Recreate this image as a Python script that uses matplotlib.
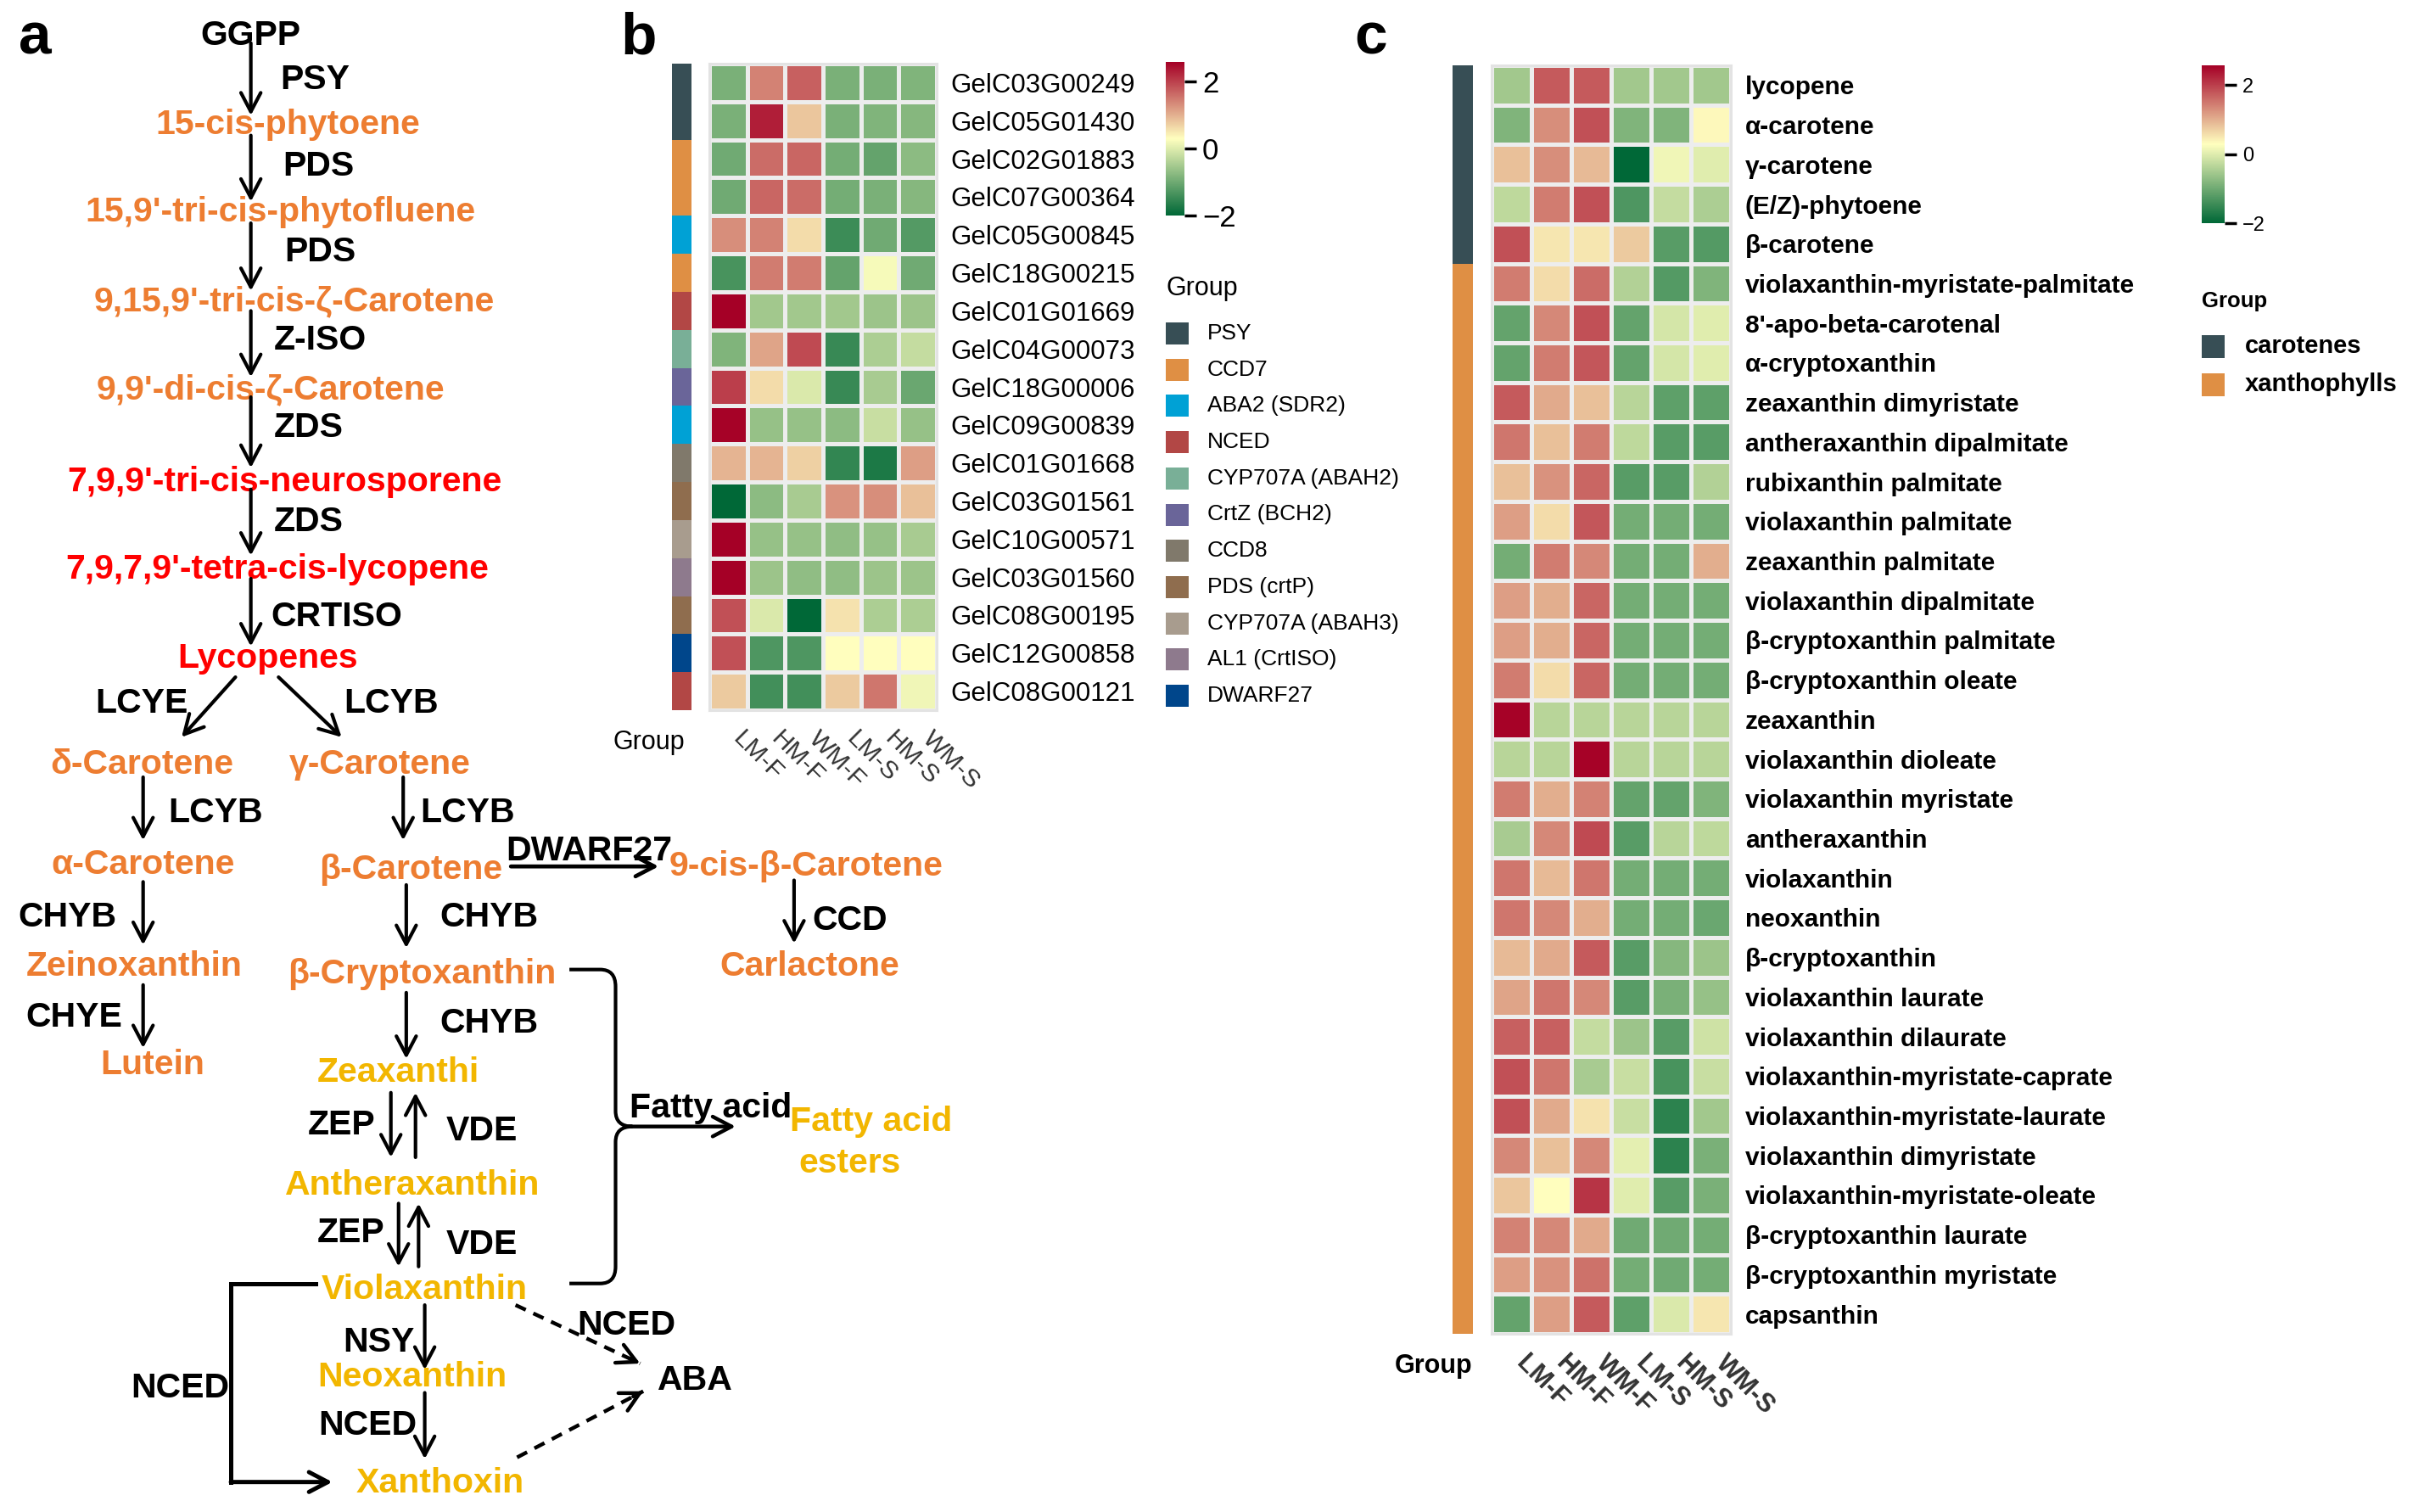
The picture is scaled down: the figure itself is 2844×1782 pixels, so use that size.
import numpy as np
import matplotlib
matplotlib.use('Agg')
import matplotlib.pyplot as plt
from matplotlib.colors import LinearSegmentedColormap, ListedColormap, Normalize
from matplotlib.patches import Rectangle, PathPatch
from matplotlib.path import Path
import matplotlib.cm as cm

plt.rcParams['font.family'] = ['Liberation Sans', 'DejaVu Sans']

# ---------------- data ----------------
samples = ['LM-F', 'HM-F', 'WM-F', 'LM-S', 'HM-S', 'WM-S']

genes = ['GelC03G00249', 'GelC05G01430', 'GelC02G01883', 'GelC07G00364', 'GelC05G00845',
         'GelC18G00215', 'GelC01G01669', 'GelC04G00073', 'GelC18G00006', 'GelC09G00839',
         'GelC01G01668', 'GelC03G01561', 'GelC10G00571', 'GelC03G01560', 'GelC08G00195',
         'GelC12G00858', 'GelC08G00121']
gene_groups = ['PSY', 'PSY', 'CCD7', 'CCD7', 'ABA2 (SDR2)', 'CCD7', 'NCED', 'CYP707A (ABAH2)',
               'CrtZ (BCH2)', 'ABA2 (SDR2)', 'CCD8', 'PDS (crtP)', 'CYP707A (ABAH3)',
               'AL1 (CrtISO)', 'PDS (crtP)', 'DWARF27', 'NCED']
gene_values = [
    [-0.90, 1.40, 1.70, -0.90, -0.90, -0.85],
    [-0.90, 2.30, 0.80, -0.90, -0.85, -0.80],
    [-1.00, 1.60, 1.65, -0.95, -1.10, -0.75],
    [-1.00, 1.65, 1.60, -0.95, -0.90, -0.80],
    [1.30, 1.40, 0.60, -1.45, -1.00, -1.25],
    [-1.35, 1.45, 1.45, -1.10, 0.20, -1.00],
    [2.57, -0.55, -0.55, -0.55, -0.60, -0.60],
    [-0.85, 1.10, 1.90, -1.50, -0.45, -0.25],
    [2.00, 0.60, -0.05, -1.50, -0.50, -1.05],
    [2.55, -0.65, -0.65, -0.75, -0.20, -0.65],
    [0.95, 0.95, 0.70, -1.55, -1.75, 1.15],
    [-2.00, -0.75, -0.50, 1.25, 1.30, 0.85],
    [2.57, -0.65, -0.65, -0.70, -0.65, -0.50],
    [2.57, -0.60, -0.70, -0.70, -0.60, -0.60],
    [1.85, -0.05, -2.00, 0.55, -0.45, -0.45],
    [1.85, -1.30, -1.30, 0.30, 0.30, 0.30],
    [0.75, -1.40, -1.40, 0.75, 1.50, 0.15],
]
gene_group_names = ['PSY', 'CCD7', 'ABA2 (SDR2)', 'NCED', 'CYP707A (ABAH2)', 'CrtZ (BCH2)',
                    'CCD8', 'PDS (crtP)', 'CYP707A (ABAH3)', 'AL1 (CrtISO)', 'DWARF27']
gene_group_colors = ['#374E55', '#DF8F44', '#00A1D5', '#B24745', '#79AF97', '#6A6599',
                     '#80796B', '#8F6D4E', '#A89C8E', '#8E7A8D', '#00468B']

compounds = ['lycopene', 'α-carotene', 'γ-carotene', '(E/Z)-phytoene', 'β-carotene',
             'violaxanthin-myristate-palmitate', "8'-apo-beta-carotenal", 'α-cryptoxanthin',
             'zeaxanthin dimyristate', 'antheraxanthin dipalmitate', 'rubixanthin palmitate',
             'violaxanthin palmitate', 'zeaxanthin palmitate', 'violaxanthin dipalmitate',
             'β-cryptoxanthin palmitate', 'β-cryptoxanthin oleate', 'zeaxanthin',
             'violaxanthin dioleate', 'violaxanthin myristate', 'antheraxanthin', 'violaxanthin',
             'neoxanthin', 'β-cryptoxanthin', 'violaxanthin laurate', 'violaxanthin dilaurate',
             'violaxanthin-myristate-caprate', 'violaxanthin-myristate-laurate',
             'violaxanthin dimyristate', 'violaxanthin-myristate-oleate',
             'β-cryptoxanthin laurate', 'β-cryptoxanthin myristate', 'capsanthin']
compound_groups = ['carotenes'] * 5 + ['xanthophylls'] * 27
compound_values = [
    [-0.55, 1.75, 1.75, -0.55, -0.55, -0.55],
    [-0.85, 1.30, 1.85, -0.85, -0.85, 0.35],
    [0.85, 1.30, 0.90, -2.00, 0.15, 0.00],
    [-0.30, 1.45, 1.85, -1.30, -0.25, -0.45],
    [1.85, 0.50, 0.50, 0.75, -1.20, -1.25],
    [1.45, 0.60, 1.60, -0.40, -1.25, -0.85],
    [-1.10, 1.35, 1.85, -1.10, -0.10, 0.00],
    [-1.10, 1.45, 1.80, -1.10, -0.10, 0.00],
    [1.75, 1.05, 0.85, -0.35, -1.15, -1.15],
    [1.50, 0.85, 1.45, -0.30, -1.20, -1.20],
    [0.85, 1.25, 1.65, -1.20, -1.20, -0.40],
    [1.15, 0.60, 1.80, -0.95, -0.95, -0.95],
    [-0.95, 1.45, 1.35, -0.95, -0.95, 1.00],
    [1.15, 1.00, 1.65, -0.95, -0.95, -0.95],
    [1.15, 1.00, 1.65, -0.95, -0.95, -0.95],
    [1.45, 0.60, 1.65, -0.95, -0.95, -0.95],
    [2.55, -0.35, -0.35, -0.35, -0.35, -0.35],
    [-0.35, -0.35, 2.55, -0.35, -0.35, -0.35],
    [1.45, 1.00, 1.40, -1.10, -1.10, -0.85],
    [-0.50, 1.35, 1.90, -1.20, -0.35, -0.30],
    [1.50, 0.90, 1.50, -0.95, -0.95, -0.95],
    [1.50, 1.35, 1.00, -0.95, -0.95, -1.05],
    [0.90, 1.05, 1.75, -1.20, -0.80, -0.60],
    [1.10, 1.50, 1.35, -1.20, -0.90, -0.65],
    [1.70, 1.70, -0.25, -0.60, -1.20, -0.15],
    [1.85, 1.50, -0.50, -0.20, -1.35, -0.20],
    [1.85, 1.05, 0.55, -0.20, -1.60, -0.55],
    [1.35, 0.85, 1.35, 0.05, -1.60, -0.90],
    [0.80, 0.30, 2.10, 0.00, -1.20, -0.90],
    [1.40, 1.35, 1.05, -1.00, -1.00, -0.95],
    [1.15, 1.25, 1.55, -0.95, -1.00, -0.95],
    [-1.10, 1.15, 1.75, -1.15, -0.05, 0.50],
]
compound_group_names = ['carotenes', 'xanthophylls']
compound_group_colors = ['#374E55', '#DF8F44']

cbar_ticks = [-2, 0, 2]
vmin, vmax = -2.0, 2.57

# ---------------- figure ----------------
W, H = 2844, 1782
fig = plt.figure(figsize=(W / 100, H / 100), dpi=100)

def rect_px(x0, y0, x1, y1):
    return [x0 / W, 1 - y1 / H, (x1 - x0) / W, (y1 - y0) / H]

ov = fig.add_axes([0, 0, 1, 1])
ov.set_xlim(0, W)
ov.set_ylim(H, 0)
ov.axis('off')

cmap = LinearSegmentedColormap.from_list('gyr', ['#006837', '#FFFFBF', '#A50026'], N=256)
norm = Normalize(vmin=vmin, vmax=vmax)

# ---------------- panel a: pathway ----------------
S = W / 1568.0
ORANGE = '#ED7D31'
RED = '#FF0000'
GOLD = '#F2B600'
FS = 29.5

def T(x, y, s, color='black', ha='center', size=FS, weight='bold'):
    ov.text(x * S, y * S, s, ha=ha, va='center', fontsize=size, fontweight=weight, color=color)

def A(x0, y0, x1, y1, lw=3.0):
    props = dict(arrowstyle='->,head_length=0.8,head_width=0.42', lw=lw,
                 color='black', shrinkA=0, shrinkB=0, mutation_scale=20)
    ov.annotate('', xy=(x1 * S, y1 * S), xytext=(x0 * S, y0 * S), arrowprops=props)

def DA(x0, y0, x1, y1, lw=3.2):
    # dashed shaft with a solid open head
    ov.plot([x0 * S, x1 * S], [y0 * S, y1 * S], color='black', lw=lw,
            linestyle=(0, (3.0, 2.2)), dash_capstyle='butt')
    fx, fy = x1 - (x1 - x0) * 0.08, y1 - (y1 - y0) * 0.08
    A(fx, fy, x1, y1, lw=lw)

# main trunk
T(163, 23, 'GGPP')
A(163, 28, 163, 75); T(182, 52, 'PSY', ha='left')
T(187, 81, '15-cis-phytoene', ORANGE)
A(163, 88, 163, 131); T(184, 108, 'PDS', ha='left')
T(182, 138, "15,9'-tri-cis-phytofluene", ORANGE)
A(163, 145, 163, 189); T(185, 164, 'PDS', ha='left')
T(191, 196, "9,15,9'-tri-cis-ζ-Carotene", ORANGE)
A(163, 202, 163, 245); T(178, 221, 'Z-ISO', ha='left')
T(176, 253, "9,9'-di-cis-ζ-Carotene", ORANGE)
A(163, 258, 163, 304); T(178, 278, 'ZDS', ha='left')
T(185, 313, "7,9,9'-tri-cis-neurosporene", RED)
A(163, 318, 163, 361); T(178, 339, 'ZDS', ha='left')
T(180, 370, "7,9,7,9'-tetra-cis-lycopene", RED)
A(163, 376, 163, 420); T(176, 401, 'CRTISO', ha='left')
T(174, 428, 'Lycopenes', RED)

# branches
A(153, 440, 118, 479); T(92, 457, 'LCYE')
A(181, 440, 222, 479); T(254, 457, 'LCYB')
T(92, 497, 'δ-Carotene', ORANGE)
T(247, 497, 'γ-Carotene', ORANGE)
A(93, 505, 93, 546); T(140, 528, 'LCYB')
A(262, 505, 262, 546); T(304, 528, 'LCYB')
T(93, 562, 'α-Carotene', ORANGE)
T(267, 565, 'β-Carotene', ORANGE)
A(332, 563, 428, 563, lw=3.4); T(383, 553, 'DWARF27')
T(524, 563, '9-cis-β-Carotene', ORANGE)
A(516, 572, 516, 613); T(552, 598, 'CCD')
T(526, 628, 'Carlactone', ORANGE)
A(93, 573, 93, 614); T(44, 596, 'CHYB')
T(87, 628, 'Zeinoxanthin', ORANGE)
A(93, 640, 93, 681); T(48, 661, 'CHYE')
T(99, 692, 'Lutein', ORANGE)
A(264, 575, 264, 616); T(318, 596, 'CHYB')
T(274, 633, 'β-Cryptoxanthin', ORANGE)
A(264, 645, 264, 688); T(318, 665, 'CHYB')
T(259, 697, 'Zeaxanthi', GOLD)
A(254, 710, 254, 752); A(270, 752, 270, 710)
T(222, 731, 'ZEP'); T(313, 735, 'VDE')
T(268, 770, 'Antheraxanthin', GOLD)
A(259, 782, 259, 823); A(272, 823, 272, 782)
T(228, 801, 'ZEP'); T(313, 809, 'VDE')
T(276, 838, 'Violaxanthin', GOLD)
A(276, 848, 276, 890); T(246, 872, 'NSY')
T(268, 895, 'Neoxanthin', GOLD)
A(276, 905, 276, 948); T(239, 926, 'NCED')
T(286, 964, 'Xanthoxin', GOLD)
# left NCED bracket
ov.plot([205 * S, 150 * S, 150 * S], [834 * S, 834 * S, 963 * S], color='black', lw=3.6,
        solid_joinstyle='miter')
A(150, 963, 216, 963, lw=3.6)
T(117, 902, 'NCED')
# dashed routes to ABA
DA(335, 848, 416, 886); T(407, 861, 'NCED')
DA(336, 947, 418, 904)
T(452, 897, 'ABA')
# fatty acid bracket
verts = [(370, 630), (390, 630), (400, 630), (400, 641), (400, 722), (400, 732), (411, 732),
         (370, 834), (390, 834), (400, 834), (400, 823), (400, 742), (400, 732), (411, 732)]
codes = [Path.MOVETO, Path.LINETO, Path.CURVE3, Path.CURVE3, Path.LINETO, Path.CURVE3, Path.CURVE3,
         Path.MOVETO, Path.LINETO, Path.CURVE3, Path.CURVE3, Path.LINETO, Path.CURVE3, Path.CURVE3]
ov.add_patch(PathPatch(Path([(x * S, y * S) for x, y in verts], codes), fill=False,
                       lw=3.0, edgecolor='black'))
A(408, 732, 478, 732, lw=3.2)
T(462, 720, 'Fatty acid')
T(566, 729, 'Fatty acid', GOLD)
T(552, 756, 'esters', GOLD)

# panel letters
ov.text(22, 63, 'a', fontsize=50, fontweight='bold', va='baseline', ha='left')
ov.text(731, 63, 'b', fontsize=50, fontweight='bold', va='baseline', ha='left')
ov.text(1596, 63, 'c', fontsize=50, fontweight='bold', va='baseline', ha='left')

# ---------------- heatmap helper ----------------
def heatmap(rect, values, rowlabels, bold, fs_row, fs_col):
    ax = fig.add_axes(rect)
    v = np.array(values)
    n, m = v.shape
    ax.pcolormesh(np.arange(m + 1), np.arange(n + 1), v, cmap=cmap, norm=norm,
                  edgecolors='#EDEDED', linewidth=2.2)
    ax.set_xlim(0, m)
    ax.set_ylim(n, 0)
    ax.yaxis.tick_right()
    ax.set_yticks(np.arange(n) + 0.5)
    ax.set_yticklabels(rowlabels, fontsize=fs_row, fontweight='bold' if bold else 'normal')
    ax.set_xticks(np.arange(m) + 0.5)
    ax.set_xticklabels(samples, rotation=-45, ha='left', va='top', rotation_mode='default',
                       fontsize=fs_col, color='#333333',
                       fontweight='bold' if bold else 'normal')
    ax.tick_params(axis='y', length=0, pad=12)
    ax.tick_params(axis='x', length=0, pad=14)
    for sp in ax.spines.values():
        sp.set_color('#E3E3E3')
        sp.set_linewidth(2.2)
    return ax

def annobar(rect, groups, names, colors):
    ax = fig.add_axes(rect)
    idx = np.array([[names.index(g)] for g in groups])
    ax.pcolormesh(np.arange(2), np.arange(len(groups) + 1), idx,
                  cmap=ListedColormap(colors), vmin=-0.5, vmax=len(colors) - 0.5)
    ax.set_ylim(len(groups), 0)
    ax.axis('off')
    return ax

def colorbar(rect, fs):
    cax = fig.add_axes(rect)
    cb = fig.colorbar(cm.ScalarMappable(norm=norm, cmap=cmap), cax=cax, ticks=cbar_ticks)
    cb.outline.set_visible(False)
    cax.tick_params(length=10, width=2.5, labelsize=fs, pad=5, color='black')
    return cb

# ---------------- panel b ----------------
heatmap(rect_px(836, 75, 1104, 837), gene_values, genes, False, 22.5, 21.5)
annobar(rect_px(792, 75, 815, 837), gene_groups, gene_group_names, gene_group_colors)
colorbar(rect_px(1374, 73, 1396, 254), 25)
ov.text(807, 875, 'Group', ha='right', va='center', fontsize=22)
ov.text(1374, 340, 'Group', ha='left', va='center', fontsize=22)
for i, (nm, col) in enumerate(zip(gene_group_names, gene_group_colors)):
    y = 393 + 42.7 * i
    ov.add_patch(Rectangle((1374, y - 13), 27, 26, color=col, lw=0))
    ov.text(1423, y, nm, ha='left', va='center', fontsize=19)

# ---------------- panel c ----------------
heatmap(rect_px(1758, 77, 2040, 1572), compound_values, compounds, True, 21.5, 22)
annobar(rect_px(1712, 77, 1736, 1572), compound_groups, compound_group_names, compound_group_colors)
colorbar(rect_px(2595, 77, 2622, 263), 17)
ov.text(1735, 1610, 'Group', ha='right', va='center', fontsize=22, fontweight='bold')
ov.text(2595, 355, 'Group', ha='left', va='center', fontsize=18.5, fontweight='bold')
for i, (nm, col) in enumerate(zip(compound_group_names, compound_group_colors)):
    y = 408 + 45 * i
    ov.add_patch(Rectangle((2595, y - 13.5), 27, 27, color=col, lw=0))
    ov.text(2646, y, nm, ha='left', va='center', fontsize=21, fontweight='bold')

fig.savefig('out.png', dpi=100)
